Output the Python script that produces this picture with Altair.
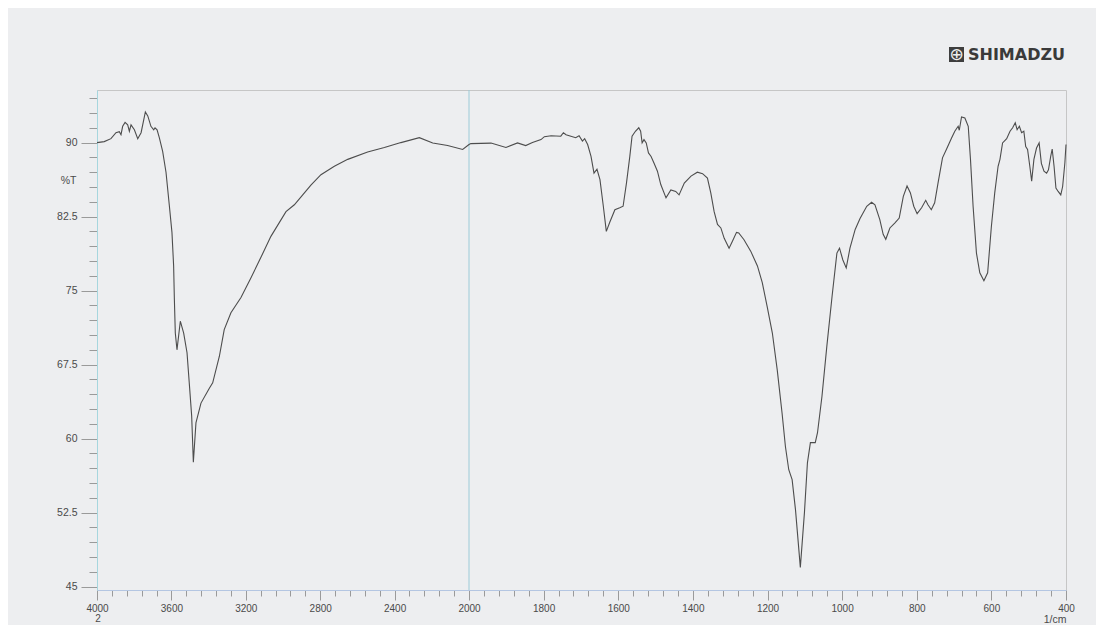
import altair as alt
import pandas as pd

# IR spectrum (wavenumber in 1/cm, transmittance %T)
wavenumber = [
    4000, 3961, 3925, 3898, 3880, 3871, 3862, 3849, 3835, 3826, 3817, 3799, 3781, 3763,
    3740, 3727, 3710, 3695, 3688, 3677, 3665, 3647, 3629, 3611, 3597, 3588, 3584, 3579,
    3570, 3552, 3534, 3516, 3504, 3491, 3482, 3468, 3441, 3396, 3378, 3342, 3316, 3280,
    3226, 3172, 3118, 3065, 2984, 2939, 2894, 2850, 2796, 2724, 2652, 2545, 2455, 2366,
    2267, 2195, 2115, 2034, 2000, 1995, 1941, 1901, 1870, 1848, 1830, 1807, 1798, 1780,
    1754, 1747, 1740, 1727, 1714, 1705, 1696, 1690, 1682, 1673, 1665, 1657, 1649, 1640,
    1632, 1623, 1609, 1596, 1587, 1578, 1569, 1563, 1554, 1545, 1540, 1536, 1531, 1525,
    1519, 1512, 1504, 1495, 1486, 1472, 1459, 1446, 1437, 1423, 1405, 1388, 1374, 1361,
    1352, 1343, 1334, 1325, 1316, 1303, 1294, 1283, 1277, 1263, 1245, 1227, 1214, 1201,
    1187, 1174, 1161, 1152, 1143, 1134, 1125, 1112, 1101, 1093, 1085, 1072, 1066, 1054,
    1041, 1027, 1014, 1007, 998, 989, 979, 965, 952, 934, 921, 912, 899, 890,
    883, 872, 859, 847, 836, 826, 817, 808, 799, 787, 776, 770, 761, 752,
    743, 731, 720, 707, 698, 689, 686, 680, 671, 662, 656, 649, 640, 631,
    620, 610, 600, 591, 582, 577, 570, 559, 550, 543, 536, 531, 525, 519,
    513, 508, 503, 497, 492, 486, 479, 472, 466, 459, 452, 447, 441, 437,
    432, 427, 421, 414, 409, 403, 400,
]
transmittance = [
    90.0, 90.1, 90.4, 91.0, 91.1, 90.8, 91.65, 92.05, 91.8, 91.15, 91.8, 91.3, 90.4, 91.0,
    93.1, 92.7, 91.65, 91.3, 91.5, 91.3, 90.5, 89.1, 87.0, 83.6, 80.9, 77.5, 74.1, 70.7,
    69.0, 71.9, 70.7, 68.7, 65.65, 62.3, 57.6, 61.6, 63.6, 65.1, 65.65, 68.35, 71.05, 72.75,
    74.3, 76.3, 78.4, 80.5, 83.0, 83.7, 84.7, 85.7, 86.75, 87.6, 88.3, 89.05, 89.5, 90.0,
    90.5, 89.95, 89.7, 89.3, 89.8, 89.9, 89.95, 89.5, 89.97, 89.7, 90.0, 90.3, 90.6, 90.7,
    90.65, 91.0, 90.8, 90.65, 90.5, 90.7, 90.15, 90.4, 89.8, 88.6, 86.9, 87.3, 86.25, 83.55,
    81.0, 81.9, 83.2, 83.4, 83.55, 85.9, 88.6, 90.65, 91.15, 91.5, 91.15, 89.97, 90.3, 89.97,
    88.95, 88.6, 87.9, 87.1, 85.75, 84.4, 85.2, 85.05, 84.7, 85.9, 86.6, 87.0, 86.85, 86.4,
    84.9, 83.0, 81.7, 81.35, 80.3, 79.3, 80.0, 80.9, 80.85, 80.15, 79.0, 77.5, 75.8, 73.4,
    70.7, 67.0, 62.6, 59.2, 56.85, 55.85, 52.8, 46.95, 52.5, 57.55, 59.6, 59.6, 60.6, 64.3,
    69.35, 74.4, 78.8, 79.3, 78.1, 77.3, 79.3, 81.2, 82.3, 83.55, 83.95, 83.7, 82.2, 80.7,
    80.2, 81.35, 81.85, 82.35, 84.55, 85.6, 84.9, 83.55, 82.8, 83.4, 84.15, 83.7, 83.2, 83.9,
    85.9, 88.45, 89.35, 90.45, 91.15, 91.65, 91.25, 92.6, 92.5, 91.65, 88.3, 83.55, 78.8, 76.8,
    76.0, 76.8, 81.5, 84.9, 87.6, 88.3, 89.97, 90.4, 91.15, 91.5, 92.0, 91.3, 91.65, 91.0,
    91.15, 89.6, 89.3, 87.6, 86.1, 88.3, 89.45, 89.97, 87.9, 87.1, 86.9, 87.25, 88.6, 89.35,
    87.6, 85.4, 85.05, 84.7, 85.55, 87.95, 89.8,
]

x_major = [4000, 3600, 3200, 2800, 2400, 2000, 1800, 1600, 1400, 1200, 1000, 800, 600, 400]
x_ticks = sorted(set(
    [4000 - 80 * i for i in range(26)] + [2000 - 40 * i for i in range(41)]
), reverse=True)
y_ticks = [45 + 1.5 * i for i in range(34)]
break_line = [2000]

df = pd.DataFrame({"wn": wavenumber, "T": transmittance})

W, H = 969, 500
x_scale = alt.Scale(domain=[4000, 2000, 400], range=[0, 372, W], nice=False, zero=False)
y_scale = alt.Scale(domain=[44.66, 95.33], nice=False, zero=False)

label_font = "Liberation Sans"
tick_col = "#9a9a9a"
text_col = "#4a4a4a"

x_major_test = "(datum.value >= 2000 && datum.value % 400 === 0) || (datum.value <= 2000 && datum.value % 200 === 0)"
x_axis = alt.Axis(
    values=x_ticks,
    tickCount=300,
    labelExpr="(" + x_major_test + ") ? format(datum.value, 'd') : ''",
    tickSize={"condition": {"test": x_major_test, "value": 10}, "value": 6},
    tickColor=tick_col,
    domainColor="#b4c6e2",
    labelFont=label_font, labelFontSize=10, labelColor=text_col,
    labelPadding=3, labelFlush=False, labelOverlap=False,
    grid=False,
    title="1/cm", titleFont=label_font, titleFontSize=10.5, titleFontWeight="normal",
    titleColor=text_col, titleX=W, titleY=29, titleAlign="right", titleBaseline="middle",
)
y_axis = alt.Axis(
    values=y_ticks,
    tickCount=300,
    labelExpr="datum.value % 7.5 === 0 ? format(datum.value, '~g') : ''",
    tickSize={"condition": {"test": "datum.value % 7.5 === 0", "value": 16}, "value": 8},
    tickColor=tick_col,
    domainColor="#a6d6de",
    labelFont=label_font, labelFontSize=10.5, labelColor=text_col,
    labelPadding=4, labelFlush=False, labelOverlap=False,
    grid=False,
    title="%T", titleFont=label_font, titleFontSize=10.5, titleFontWeight="normal",
    titleColor=text_col, titleAngle=0, titleX=-21, titleY=90,
    titleAlign="right", titleBaseline="middle",
)

line = alt.Chart(df).mark_line(color="#4d4d4d", strokeWidth=1.1).encode(
    x=alt.X("wn:Q", scale=x_scale, axis=x_axis),
    y=alt.Y("T:Q", scale=y_scale, axis=y_axis),
)

vline = alt.Chart(pd.DataFrame({"wn": break_line})).mark_rule(
    color="#9ccbd8", strokeWidth=1
).encode(x=alt.X("wn:Q", scale=x_scale))

one = pd.DataFrame({"a": [0]})
logo_box = alt.Chart(one).mark_rect(color="#3e3e3e").encode(
    x=alt.value(852), x2=alt.value(867), y=alt.value(-43), y2=alt.value(-28)
)
logo_sym = alt.Chart(one).mark_text(
    text="⊕", color="#eeeeee", fontSize=17, font="DejaVu Sans", align="center", baseline="middle"
).encode(x=alt.value(859.5), y=alt.value(-35))
logo_txt = alt.Chart(one).mark_text(
    text="SHIMADZU", color="#3a3a3a", fontSize=16, font="DejaVu Sans", fontWeight="bold",
    align="left", baseline="middle"
).encode(x=alt.value(871), y=alt.value(-35.5))
two = alt.Chart(one).mark_text(
    text="2", color=text_col, fontSize=10, font=label_font, align="center", baseline="middle"
).encode(x=alt.value(1), y=alt.value(529))

chart = alt.layer(vline, line, logo_box, logo_sym, logo_txt, two).properties(
    width=W, height=H,
    autosize=alt.AutoSizeParams(type="none"),
    padding={"left": 89, "top": 82, "right": 30, "bottom": 36},
    background="#edeef0",
).configure_view(stroke="#c6c6c6", strokeWidth=1, fill="#edeef0")

chart.save("out.html", embed_options={"renderer": "svg", "actions": False})
